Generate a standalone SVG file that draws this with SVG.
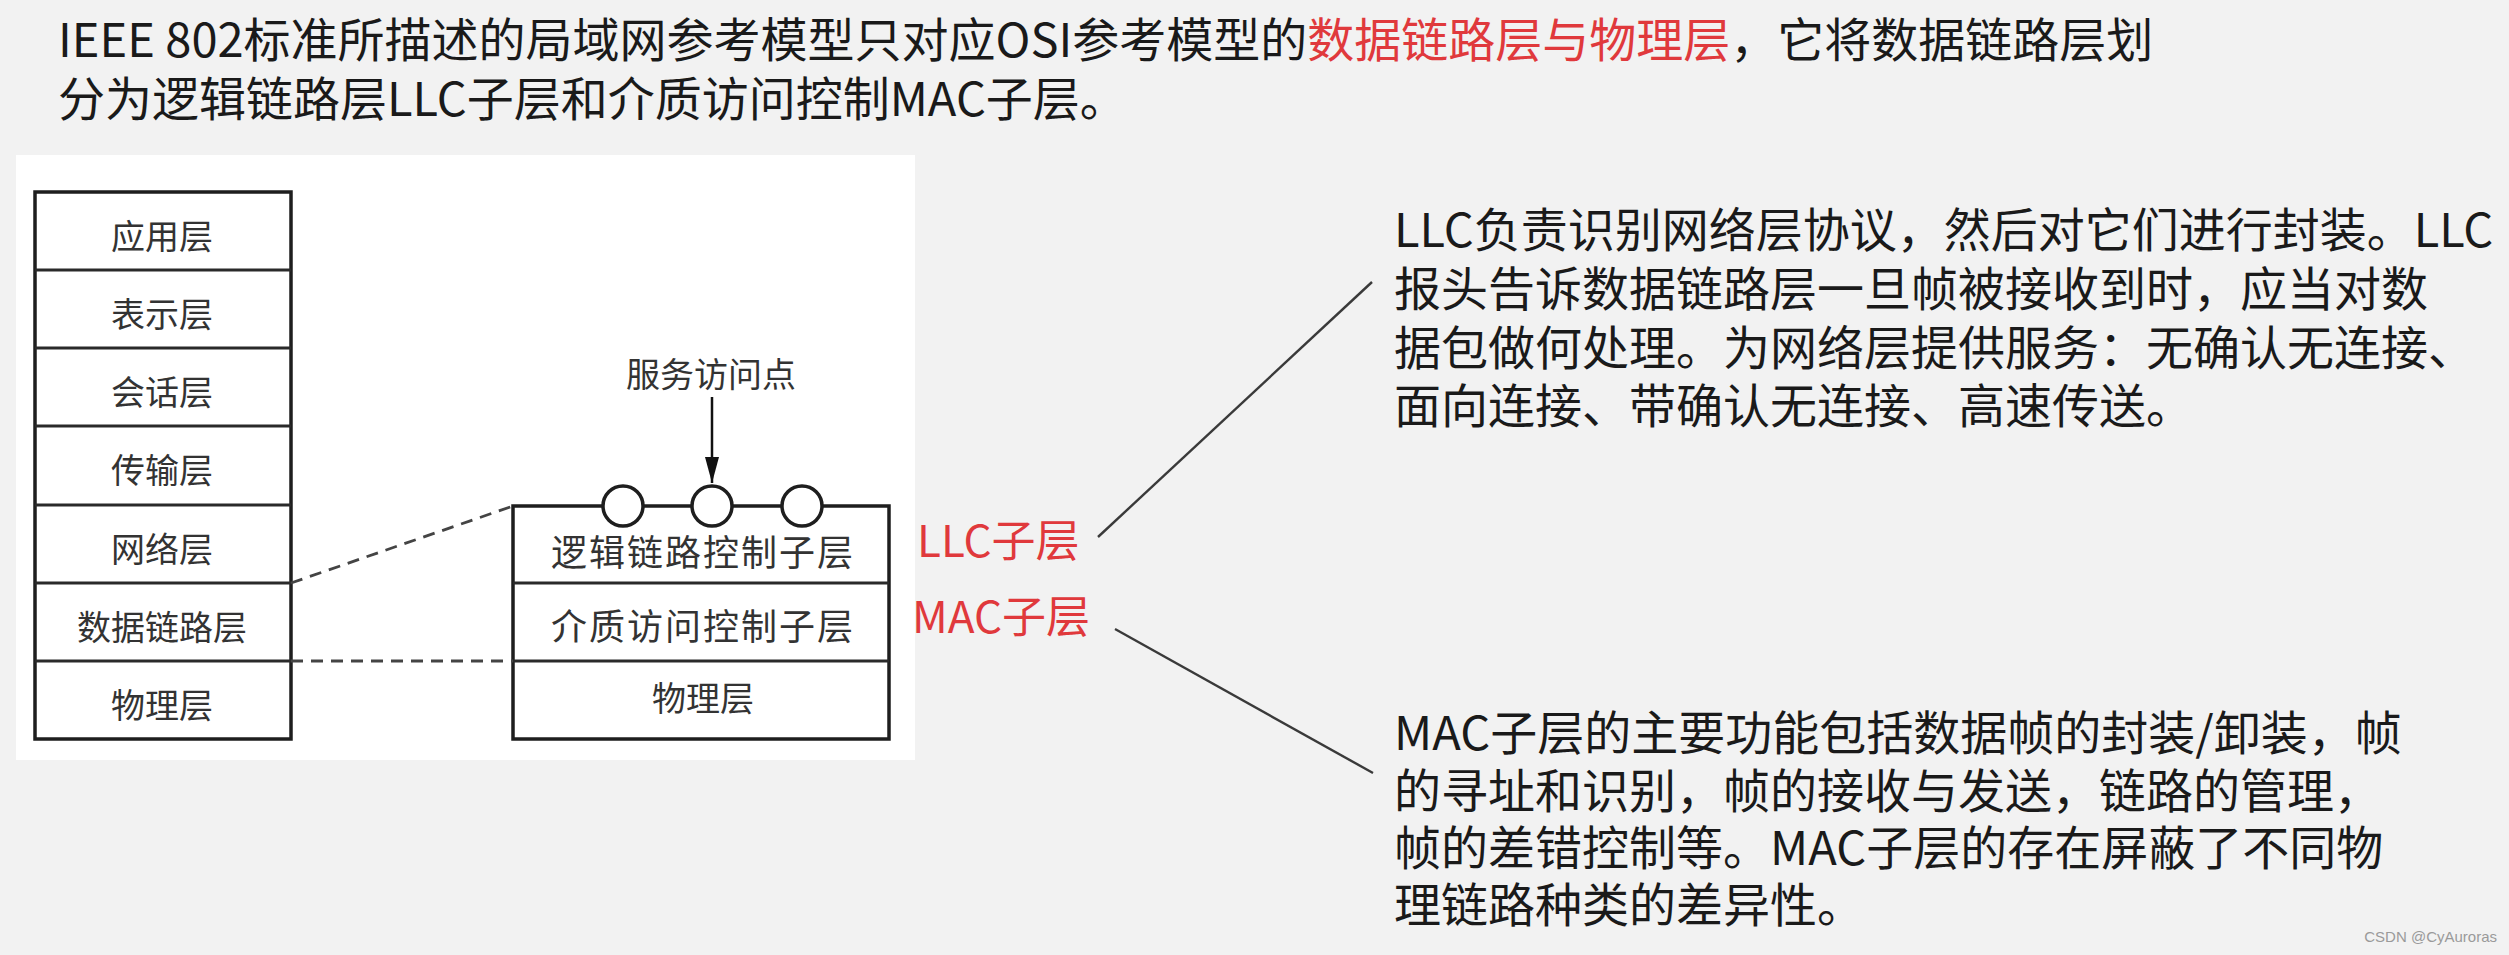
<svg xmlns="http://www.w3.org/2000/svg" width="2509" height="955" viewBox="0 0 2509 955">
  <defs>
    <style>
      .big { font-family: "Noto Sans CJK SC", "Noto Sans", sans-serif; font-size: 47px; fill: #1a1a1a; }
      .red { fill: #e0393c; }
      .lbl { font-family: "Noto Sans CJK SC", "Noto Sans", sans-serif; font-size: 34px; fill: #333; text-anchor: middle; }
      .box { fill: #ffffff; stroke: #1e1e1e; stroke-width: 3.5; }
      .sep { stroke: #2a2a2a; stroke-width: 3; }
      .dash { stroke: #444; stroke-width: 2.8; stroke-dasharray: 12 8; fill: none; }
      .lead { stroke: #3a3a3a; stroke-width: 2.4; fill: none; }
      .sap { fill: #ffffff; stroke: #1e1e1e; stroke-width: 3.5; }
      .sub { font-family: "Noto Sans CJK SC", "Noto Sans", sans-serif; font-size: 44px; fill: #e0393c; }
    </style>
    <marker id="arr" markerWidth="26" markerHeight="14" refX="26" refY="7" orient="auto" markerUnits="userSpaceOnUse" viewBox="0 0 26 14">
      <path d="M0,0 L26,7 L0,14 Z" fill="#111"/>
    </marker>
  </defs>

  <rect x="0" y="0" width="2509" height="955" fill="#f2f2f2"/>
  <rect x="16" y="155" width="899" height="605" fill="#ffffff"/>

  <g id="title">
    <text class="big" x="58" y="57">IEEE 802标准所描述的局域网参考模型只对应OSI参考模型的<tspan class="red">数据链路层与物理层</tspan>，它将数据链路层划</text>
    <text class="big" x="58" y="116">分为逻辑链路层LLC子层和介质访问控制MAC子层。</text>
  </g>

  <g id="osi-stack">
    <rect class="box" x="35" y="192" width="256" height="547"/>
    <line class="sep" x1="35" y1="270" x2="291" y2="270"/>
    <line class="sep" x1="35" y1="348" x2="291" y2="348"/>
    <line class="sep" x1="35" y1="426" x2="291" y2="426"/>
    <line class="sep" x1="35" y1="505" x2="291" y2="505"/>
    <line class="sep" x1="35" y1="583" x2="291" y2="583"/>
    <line class="sep" x1="35" y1="661" x2="291" y2="661"/>
    <text class="lbl" x="162" y="249">应用层</text>
    <text class="lbl" x="162" y="327">表示层</text>
    <text class="lbl" x="162" y="405">会话层</text>
    <text class="lbl" x="162" y="483">传输层</text>
    <text class="lbl" x="162" y="562">网络层</text>
    <text class="lbl" x="162" y="640">数据链路层</text>
    <text class="lbl" x="162" y="718">物理层</text>
  </g>

  <g id="ieee-stack">
    <rect class="box" x="513" y="506" width="376" height="233"/>
    <line class="sep" x1="513" y1="583" x2="889" y2="583"/>
    <line class="sep" x1="513" y1="661" x2="889" y2="661"/>
    <text class="lbl" x="703" y="566" style="font-size:36px" letter-spacing="2">逻辑链路控制子层</text>
    <text class="lbl" x="703" y="640" style="font-size:36px" letter-spacing="2">介质访问控制子层</text>
    <text class="lbl" x="703" y="711">物理层</text>
  </g>

  <g id="sap">
    <circle class="sap" cx="623" cy="506" r="20"/>
    <circle class="sap" cx="712" cy="506" r="20"/>
    <circle class="sap" cx="802" cy="506" r="20"/>
    <text class="lbl" x="711" y="387">服务访问点</text>
  </g>

  <g id="llc-label">
    <text class="sub" x="917" y="557">LLC子层</text>
  </g>
  <g id="mac-label">
    <text class="sub" x="912" y="633">MAC子层</text>
  </g>

  <g id="llc-desc">
    <text class="big" x="1394" y="247">LLC负责识别网络层协议，然后对它们进行封装。LLC</text>
    <text class="big" x="1394" y="306">报头告诉数据链路层一旦帧被接收到时，应当对数</text>
    <text class="big" x="1394" y="365">据包做何处理。为网络层提供服务：无确认无连接、</text>
    <text class="big" x="1394" y="423">面向连接、带确认无连接、高速传送。</text>
  </g>

  <g id="mac-desc">
    <text class="big" x="1394" y="750">MAC子层的主要功能包括数据帧的封装/卸装，帧</text>
    <text class="big" x="1394" y="808">的寻址和识别，帧的接收与发送，链路的管理，</text>
    <text class="big" x="1394" y="865">帧的差错控制等。MAC子层的存在屏蔽了不同物</text>
    <text class="big" x="1394" y="922">理链路种类的差异性。</text>
  </g>

  <g id="connectors">
    <line class="dash" x1="291" y1="583" x2="513" y2="506"/>
    <line class="dash" x1="291" y1="661" x2="513" y2="661"/>
    <line x1="712" y1="397" x2="712" y2="483" stroke="#111" stroke-width="2.5" marker-end="url(#arr)"/>
    <line class="lead" x1="1098" y1="537" x2="1372" y2="282"/>
    <line class="lead" x1="1115" y1="629" x2="1373" y2="773"/>
  </g>

  <text x="2497" y="942" text-anchor="end" font-family="Liberation Sans, sans-serif" font-size="15" fill="#9a9a9a">CSDN @CyAuroras</text>
</svg>
